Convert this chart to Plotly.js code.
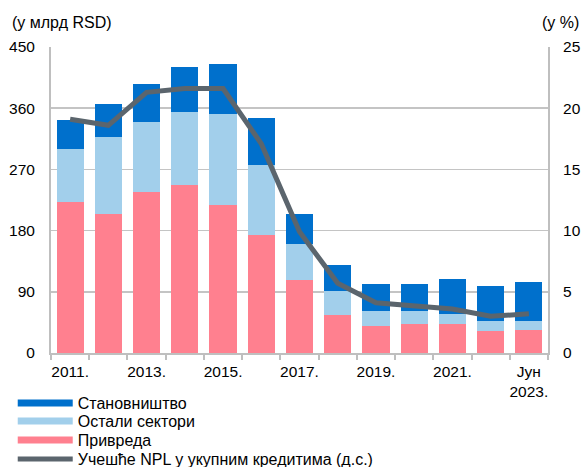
<!DOCTYPE html>
<html>
<head>
<meta charset="utf-8">
<script src="https://cdn.plot.ly/plotly-3.0.1.min.js"></script>
<style>
  html, body { margin: 0; padding: 0; background: #fff; }
  #chart { width: 582px; height: 467px; }
</style>
</head>
<body>
<div id="chart"></div>
<script>
// categories (years, last one is June 2023)
const categories = ['2011.', '2012.', '2013.', '2014.', '2015.', '2016.', '2017.',
                    '2018.', '2019.', '2020.', '2021.', '2022.', 'Јун 2023.'];
const tickLabels = ['2011.', '', '2013.', '', '2015.', '', '2017.',
                    '', '2019.', '', '2021.', '', 'Јун<br>2023.'];

// NPL, bn RSD
const privreda = [222, 205, 237, 247, 217, 173, 107, 56, 39, 42, 43, 33, 34];
const ostali = [78, 112, 102, 108, 135, 104, 53, 35, 23, 20, 15, 14, 13];
const stanovnistvo = [43, 49, 56, 66, 73, 68, 44, 39, 39, 40, 51, 52, 58];
// share of NPL in total loans, % (right axis)
const nplShare = [19.1, 18.6, 21.3, 21.6, 21.6, 17.1, 9.9, 5.7, 4.1, 3.8, 3.6, 3.0, 3.2];

const colStan = '#0070cc';
const colOst = '#a2cfeb';
const colPriv = '#ff808f';
const colLine = '#5b656d';

const traces = [
    { x: categories, y: privreda, type: 'bar', name: 'Привреда', showlegend: false,
      marker: { color: colPriv } },
    { x: categories, y: ostali, type: 'bar', name: 'Остали сектори', showlegend: false,
      marker: { color: colOst } },
    { x: categories, y: stanovnistvo, type: 'bar', name: 'Становништво', showlegend: false,
      marker: { color: colStan } },
    { x: categories, y: nplShare, type: 'scatter', mode: 'lines', yaxis: 'y2',
      name: 'Учешће NPL у укупним кредитима (д.с.)', showlegend: false,
      line: { color: colLine, width: 5 } },
    // legend swatches, one legend per row to get the tight spacing
    { x: [null], y: [null], type: 'scatter', mode: 'lines', name: 'Становништво',
      legend: 'legend', line: { color: colStan, width: 7 } },
    { x: [null], y: [null], type: 'scatter', mode: 'lines', name: 'Остали сектори',
      legend: 'legend2', line: { color: colOst, width: 7 } },
    { x: [null], y: [null], type: 'scatter', mode: 'lines', name: 'Привреда',
      legend: 'legend3', line: { color: colPriv, width: 7 } },
    { x: [null], y: [null], type: 'scatter', mode: 'lines',
      name: 'Учешће NPL у укупним кредитима (д.с.)',
      legend: 'legend4', line: { color: colLine, width: 5 } }
];

// plot area runs from y=47 to y=353 px
function legendRow(py) {
    return {
        x: -0.077,
        xanchor: 'left',
        y: (353 - py) / 306,
        yanchor: 'middle',
        itemwidth: 55,
        font: { size: 16 },
        bgcolor: 'rgba(0,0,0,0)'
    };
}

const layout = {
    width: 582,
    height: 467,
    margin: { l: 51, r: 34, t: 47, b: 114, autoexpand: false },
    paper_bgcolor: '#fff',
    plot_bgcolor: '#fff',
    font: { family: 'Liberation Sans, Arial, sans-serif', size: 15.5, color: '#000' },
    barmode: 'stack',
    bargap: 0.29,
    showlegend: true,
    xaxis: {
        type: 'category',
        tickmode: 'array',
        tickvals: categories,
        ticktext: tickLabels,
        tickson: 'boundaries',
        ticks: 'outside',
        ticklen: 5,
        tickcolor: '#bfbfbf',
        tickwidth: 2,
        ticklabelstandoff: 3,
        showline: true,
        linecolor: '#bfbfbf',
        linewidth: 2,
        showgrid: false,
        tickangle: 0
    },
    yaxis: {
        range: [0, 450],
        tickvals: [0, 90, 180, 270, 360, 450],
        showline: true,
        linecolor: '#bfbfbf',
        linewidth: 2,
        gridcolor: '#c4c4c4',
        gridwidth: 1.5,
        zeroline: false,
        ticks: 'outside',
        ticklen: 11,
        tickcolor: 'rgba(0,0,0,0)'
    },
    yaxis2: {
        overlaying: 'y',
        side: 'right',
        range: [0, 25],
        tickvals: [0, 5, 10, 15, 20, 25],
        showline: true,
        linecolor: '#bfbfbf',
        linewidth: 2,
        showgrid: false,
        zeroline: false,
        ticks: 'outside',
        ticklen: 10,
        tickcolor: 'rgba(0,0,0,0)'
    },
    legend: legendRow(403),
    legend2: legendRow(421),
    legend3: legendRow(440),
    legend4: legendRow(459),
    annotations: [
        { text: '(у млрд RSD)', xref: 'paper', yref: 'paper', x: -0.082, y: 1.0,
          xanchor: 'left', yanchor: 'bottom', yshift: 14, showarrow: false,
          font: { size: 16 } },
        { text: '(у %)', xref: 'paper', yref: 'paper', x: 1.0, y: 1.0,
          xanchor: 'left', yanchor: 'bottom', xshift: -8, yshift: 14, showarrow: false,
          font: { size: 16 } }
    ]
};

Plotly.newPlot('chart', traces, layout, { displayModeBar: false, staticPlot: true });
</script>
</body>
</html>
